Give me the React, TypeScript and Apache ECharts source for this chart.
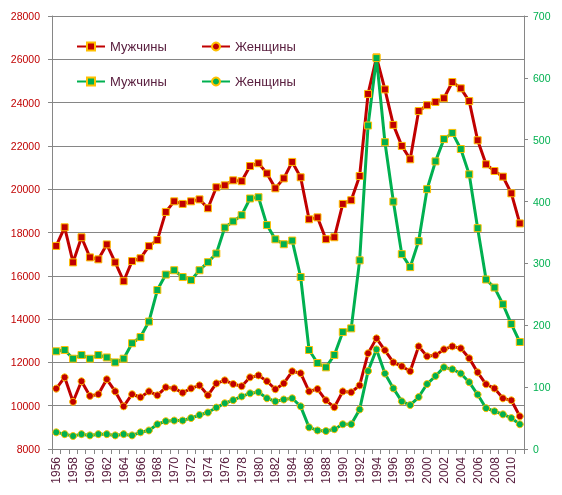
import React, { useEffect, useRef } from "react";
import * as echarts from "echarts";

const years = [
  "1956", "1957", "1958", "1959", "1960", "1961", "1962", "1963", "1964", "1965",
  "1966", "1967", "1968", "1969", "1970", "1971", "1972", "1973", "1974", "1975",
  "1976", "1977", "1978", "1979", "1980", "1981", "1982", "1983", "1984", "1985",
  "1986", "1987", "1988", "1989", "1990", "1991", "1992", "1993", "1994", "1995",
  "1996", "1997", "1998", "1999", "2000", "2001", "2002", "2003", "2004", "2005",
  "2006", "2007", "2008", "2009", "2010", "2011",
];

// left axis
const menLeft = [
  17380, 18240, 16620, 17780, 16850, 16760, 17450, 16620, 15750, 16680,
  16810, 17370, 17650, 18950, 19440, 19320, 19440, 19530, 19120, 20090,
  20180, 20410, 20370, 21070, 21200, 20730, 20040, 20500, 21260, 20550,
  18610, 18700, 17690, 17780, 19320, 19490, 20610, 24400, 26090, 24610,
  22970, 22000, 21380, 23610, 23880, 24030, 24200, 24950, 24660, 24070,
  22260, 21150, 20840, 20580, 19810, 18420,
];
const womenLeft = [
  10790, 11310, 10180, 11130, 10450, 10530, 11220, 10660, 9970, 10530,
  10390, 10660, 10480, 10850, 10800, 10600, 10800, 10940, 10480, 11030,
  11170, 11000, 10900, 11310, 11400, 11130, 10760, 11030, 11590, 11500,
  10660, 10770, 10250, 9930, 10660, 10620, 10940, 12420, 13110, 12560,
  12000, 11820, 11590, 12740, 12280, 12330, 12600, 12740, 12650, 12190,
  11540, 10990, 10800, 10340, 10250, 9510,
];
// right axis
const menRight = [
  158, 160, 146, 152, 146, 152, 148, 140, 146, 171,
  181, 206, 257, 282, 289, 278, 273, 289, 302, 316,
  358, 368, 378, 405, 407, 362, 339, 331, 337, 278,
  160, 139, 132, 152, 189, 195, 305, 523, 632, 496,
  400, 315, 294, 336, 420, 465, 501, 511, 485, 444,
  357, 274, 261, 234, 202, 173,
];
const womenRight = [
  27, 24, 21, 24, 22, 24, 24, 22, 24, 22,
  27, 30, 40, 45, 46, 46, 50, 55, 59, 67,
  74, 79, 85, 90, 92, 82, 77, 80, 82, 69,
  35, 30, 29, 32, 40, 40, 64, 126, 161, 122,
  98, 77, 71, 84, 105, 118, 132, 129, 122, 108,
  88, 66, 61, 56, 50, 40,
];

const leftTicks = { min: 8000, max: 28000, interval: 2000 };
const rightTicks = { min: 0, max: 700, interval: 100 };

const labels: Record<string, string> = {
  m1: "Мужчины",
  w1: "Женщины",
  m2: "Мужчины",
  w2: "Женщины",
};

const RED = "#c00000";
const GREEN = "#00b050";
const GOLD = "#ffc000";
const GRID = "#868686";
const TEXT = "#5a2040";
const FONT = "'Liberation Sans', Arial, sans-serif";

export default function App() {
  const ref = useRef<HTMLDivElement>(null);
  useEffect(() => {
    if (!ref.current) return;
    document.body.style.margin = "0";
    const chart = echarts.init(ref.current, undefined, { renderer: "svg" });
    const mkLegend = (name: string, left: number, top: number) => ({
      data: [{ name }],
      left,
      top,
      padding: 0,
      itemWidth: 28,
      itemHeight: 10,
      formatter: (n: string) => labels[n],
      textStyle: { color: TEXT, fontSize: 13, fontFamily: FONT },
      selectedMode: false,
    });
    const mkSeries = (
      id: string,
      data: number[],
      color: string,
      symbol: string,
      yAxisIndex: number
    ) => ({
      name: id,
      type: "line",
      data,
      yAxisIndex,
      symbol,
      symbolSize: 7,
      showSymbol: true,
      showAllSymbol: true,
      lineStyle: { color, width: 3 },
      itemStyle: { color, borderColor: GOLD, borderWidth: 1 },
      emphasis: { disabled: true },
    });
    chart.setOption({
      animation: false,
      textStyle: { fontFamily: FONT },
      grid: { left: 52, right: 38, top: 16, bottom: 46, containLabel: false },
      legend: [
        mkLegend("m1", 76, 40),
        mkLegend("w1", 201, 40),
        mkLegend("m2", 76, 75),
        mkLegend("w2", 201, 75),
      ],
      xAxis: {
        type: "category",
        data: years,
        boundaryGap: true,
        axisLine: { lineStyle: { color: GRID, width: 1 } },
        axisTick: { show: true, interval: 0, length: 5, lineStyle: { color: GRID } },
        axisLabel: {
          show: true,
          interval: 1,
          rotate: 90,
          align: "right",
          verticalAlign: "middle",
          color: TEXT,
          fontSize: 12,
          fontFamily: FONT,
          margin: 8,
        },
      },
      yAxis: [
        {
          type: "value",
          ...leftTicks,
          position: "left",
          axisLine: { show: true, lineStyle: { color: GRID } },
          axisTick: { show: true, length: 4, lineStyle: { color: GRID } },
          splitLine: { show: true, lineStyle: { color: GRID, width: 1 } },
          axisLabel: {
            color: RED,
            fontSize: 10.5,
            fontFamily: FONT,
            margin: 12,
            formatter: (v: number) => String(v),
          },
        },
        {
          type: "value",
          ...rightTicks,
          position: "right",
          axisLine: { show: true, lineStyle: { color: GRID } },
          axisTick: { show: true, length: 4, lineStyle: { color: GRID } },
          splitLine: { show: false },
          axisLabel: {
            color: GREEN,
            fontSize: 10.5,
            fontFamily: FONT,
            margin: 9,
            formatter: (v: number) => String(v),
          },
        },
      ],
      series: [
        mkSeries("m1", menLeft, RED, "rect", 0),
        mkSeries("w1", womenLeft, RED, "circle", 0),
        mkSeries("m2", menRight, GREEN, "rect", 1),
        mkSeries("w2", womenRight, GREEN, "circle", 1),
      ],
    });
    return () => chart.dispose();
  }, []);
  return (
    <div
      ref={ref}
      style={{ position: "fixed", left: 0, top: 0, width: 562, height: 495 }}
    />
  );
}
